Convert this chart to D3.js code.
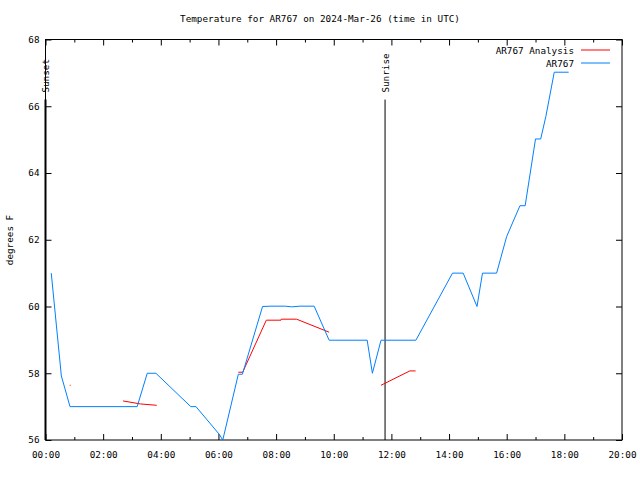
<!DOCTYPE html>
<html>
<head>
<meta charset="utf-8">
<script src="https://cdn.jsdelivr.net/npm/d3@7"></script>
<style>
  html, body { margin: 0; padding: 0; background: #fff; }
  svg text { font-family: "DejaVu Sans Mono", "Liberation Mono", monospace; font-size: 9.3px; fill: #000; }
</style>
</head>
<body>
<svg id="chart" width="640" height="480"></svg>
<script>
// ---- data ----
const titleText = "Temperature for AR767 on 2024-Mar-26 (time in UTC)";
const yLabel = "degrees F";
const seriesNames = ["AR767 Analysis", "AR767"];
const seriesColors = ["#ff0000", "#0080ff"];

// observed series (hours UTC, degrees F)
const obsHours = [0.20, 0.55, 0.85, 3.18, 3.53, 3.83, 5.04, 5.22, 6.02, 6.15, 6.69, 6.83, 7.53, 7.82, 8.32, 8.54, 8.83, 9.32, 9.84, 11.16, 11.34, 11.64, 12.85, 14.12, 14.49, 14.97, 15.16, 15.65, 16.0, 16.46, 16.64, 17.0, 17.18, 17.36, 17.65, 18.15];
const obsTemps = [61.0, 57.92, 57.0, 57.0, 58.0, 58.0, 57.0, 57.0, 56.18, 56.0, 57.97, 57.97, 60.0, 60.01, 60.01, 59.99, 60.01, 60.01, 58.99, 58.99, 58.0, 58.99, 58.99, 61.0, 61.0, 60.0, 61.0, 61.0, 62.1, 63.02, 63.02, 65.02, 65.02, 65.7, 67.02, 67.02];

// analysis series (null = gap)
const anaHours = [0.84, 0.87, null, 2.69, 3.3, 3.86, null, 6.69, 6.84, 7.66, 8.17, 8.18, 8.71, 9.84, null, 11.64, 12.64, 12.84];
const anaTemps = [57.64, 57.64, null, 57.17, 57.08, 57.04, null, 58.03, 58.03, 59.59, 59.59, 59.62, 59.62, 59.23, null, 57.64, 58.07, 58.07];

// sun events (hours UTC)
const sunEvents = ["Sunset", "Sunrise"];
const sunHours = [0.0, 11.78];
const sunTop = 66.2;

const xDomain = [0, 20];
const yDomain = [56, 68];
const xMajorTicks = [0, 2, 4, 6, 8, 10, 12, 14, 16, 18, 20];
const xMinorTicks = [1, 3, 5, 7, 9, 11, 13, 15, 17, 19];
const yTicks = [56, 58, 60, 62, 64, 66, 68];

// ---- layout ----
const M = { left: 45.5, right: 622, top: 39.5, bottom: 440 };
const svg = d3.select("#chart");

const x = d3.scaleLinear().domain(xDomain).range([M.left, M.right]);
const y = d3.scaleLinear().domain(yDomain).range([M.bottom, M.top]);

const fmtTime = h => String(Math.floor(h)).padStart(2, "0") + ":00";

// title
svg.append("text").attr("x", 320).attr("y", 22).attr("text-anchor", "middle").text(titleText);

// y label
svg.append("text")
  .attr("transform", "translate(13,240) rotate(-90)")
  .attr("text-anchor", "middle").text(yLabel);

function styleAxis(g) {
  g.select(".domain").remove();
  g.selectAll("line").attr("stroke", "#000").attr("stroke-width", 1);
  g.selectAll("text").style("font-family", "DejaVu Sans Mono, monospace").style("font-size", "9.3px").attr("fill", "#000");
}

// bottom axes
svg.append("g").attr("transform", `translate(0,${M.bottom})`)
  .call(d3.axisTop(x).tickValues(xMajorTicks).tickSize(6).tickFormat(""))
  .call(styleAxis);
svg.append("g").attr("transform", `translate(0,${M.bottom})`)
  .call(d3.axisTop(x).tickValues(xMinorTicks).tickSize(3).tickFormat(""))
  .call(styleAxis);
svg.append("g").attr("transform", `translate(0,${M.bottom})`)
  .call(d3.axisBottom(x).tickValues(xMajorTicks).tickSize(0).tickPadding(11).tickFormat(fmtTime))
  .call(styleAxis);
// top mirrored
svg.append("g").attr("transform", `translate(0,${M.top})`)
  .call(d3.axisBottom(x).tickValues(xMajorTicks).tickSize(6).tickFormat(""))
  .call(styleAxis);
svg.append("g").attr("transform", `translate(0,${M.top})`)
  .call(d3.axisBottom(x).tickValues(xMinorTicks).tickSize(3).tickFormat(""))
  .call(styleAxis);

// left y axis
svg.append("g").attr("transform", `translate(${M.left},0)`)
  .call(d3.axisRight(y).tickValues(yTicks).tickSize(6).tickFormat(""))
  .call(styleAxis);
svg.append("g").attr("transform", `translate(${M.left},0)`)
  .call(d3.axisLeft(y).tickValues(yTicks).tickSize(0).tickPadding(6).tickFormat(d3.format("d")))
  .call(styleAxis);
// right mirrored
svg.append("g").attr("transform", `translate(${M.right},0)`)
  .call(d3.axisLeft(y).tickValues(yTicks).tickSize(6).tickFormat(""))
  .call(styleAxis);

// border
svg.append("rect")
  .attr("x", M.left).attr("y", M.top)
  .attr("width", M.right - M.left).attr("height", M.bottom - M.top)
  .attr("fill", "none").attr("stroke", "#000").attr("stroke-width", 1);

// sun event lines
sunEvents.forEach((name, i) => {
  const sx = x(sunHours[i]);
  svg.append("line")
    .attr("x1", sx).attr("x2", sx)
    .attr("y1", y(yDomain[0])).attr("y2", y(sunTop))
    .attr("stroke", "#000").attr("stroke-width", i === 0 ? 2 : 1);
  svg.append("text")
    .attr("transform", `translate(${sx + 3.5},${y(sunTop) - 7}) rotate(-90)`)
    .attr("text-anchor", "start").text(name);
});

// series
const obs = obsHours.map((h, i) => ({ h, t: obsTemps[i] }));
const ana = anaHours.map((h, i) => ({ h, t: anaTemps[i] }));

const line = d3.line()
  .defined(d => d.h !== null && d.t !== null)
  .x(d => x(d.h)).y(d => y(d.t));

svg.append("path").datum(ana)
  .attr("d", line).attr("fill", "none")
  .attr("stroke", seriesColors[0]).attr("stroke-width", 1);
svg.append("path").datum(obs)
  .attr("d", line).attr("fill", "none")
  .attr("stroke", seriesColors[1]).attr("stroke-width", 1);

// legend
seriesNames.forEach((name, i) => {
  const ly = 50 + i * 13;
  svg.append("text").attr("x", 574).attr("y", ly + 3.5).attr("text-anchor", "end").text(name);
  svg.append("line").attr("x1", 581).attr("x2", 610).attr("y1", ly).attr("y2", ly)
    .attr("stroke", seriesColors[i]).attr("stroke-width", 1);
});
</script>
</body>
</html>
